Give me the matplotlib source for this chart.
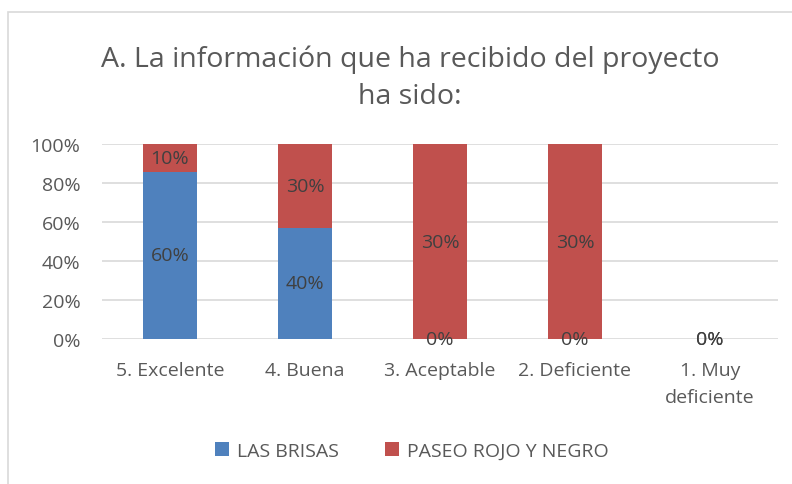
import matplotlib.pyplot as plt
from matplotlib.patches import Rectangle
import numpy as np

plt.rcParams['font.family'] = ['Open Sans', 'DejaVu Sans']

categories = ['5. Excelente', '4. Buena', '3. Aceptable', '2. Deficiente', '1. Muy\ndeficiente']
las_brisas = [60, 40, 0, 0, 0]
paseo = [10, 30, 30, 30, 0]
yticks = [0, 20, 40, 60, 80, 100]

blue = '#4f81bd'
red = '#c0504d'
txt = '#404040'
tick_col = '#595959'

W, H = 792, 485
fig = plt.figure(figsize=(W / 100, H / 100), dpi=100)

# chart frame (cut off at the right and bottom like the screenshot)
fig.patches.append(Rectangle((8 / W, -0.1), 1.2, (H - 13) / H + 0.1, transform=fig.transFigure,
                             fill=False, edgecolor='#d9d9d9', linewidth=1.2))

ax = fig.add_axes([102.5 / W, (H - 340) / H, 675 / W, 195 / H])

b = np.array(las_brisas, dtype=float)
p = np.array(paseo, dtype=float)
tot = b + p
tot[tot == 0] = 1
bp = b / tot * 100
pp = p / tot * 100

x = np.arange(len(categories))
ax.bar(x, bp, width=0.4, color=blue, zorder=2, label='LAS BRISAS')
ax.bar(x, pp, width=0.4, bottom=bp, color=red, zorder=2, label='PASEO ROJO Y NEGRO')

fs = 14
for i in range(len(x)):
    ax.text(x[i], bp[i] / 2, f'{las_brisas[i]}%', ha='center', va='center', fontsize=fs, color=txt, zorder=3)
    ax.text(x[i], bp[i] + pp[i] / 2, f'{paseo[i]}%', ha='center', va='center', fontsize=fs, color=txt, zorder=3)

ax.set_xlim(-0.5, len(categories) - 0.5)
ax.set_ylim(0, 100)
ax.set_yticks(yticks)
ax.set_yticklabels([f'{v}%' for v in yticks])
ax.set_xticks(x)
ax.set_xticklabels(categories, linespacing=1.65)
ax.yaxis.grid(True, color='#d9d9d9', linewidth=1.2, zorder=0)
ax.set_axisbelow(True)
for s in ax.spines.values():
    s.set_visible(False)
ax.tick_params(axis='both', length=0, labelsize=fs, labelcolor=tick_col)
ax.tick_params(axis='y', pad=16)
ax.tick_params(axis='x', pad=16)

fig.text(410 / W, (H - 78) / H, 'A. La información que ha recibido del proyecto\nha sido:',
         ha='center', va='center', fontsize=20.5, color=tick_col, linespacing=1.45)

fig.legend(loc='center', bbox_to_anchor=(412 / W, (H - 452) / H), ncol=2, frameon=False,
           fontsize=fs, labelcolor=tick_col, handlelength=0.7, handleheight=0.7,
           handletextpad=0.4, columnspacing=2.4)

fig.savefig('out.png', dpi=100)
